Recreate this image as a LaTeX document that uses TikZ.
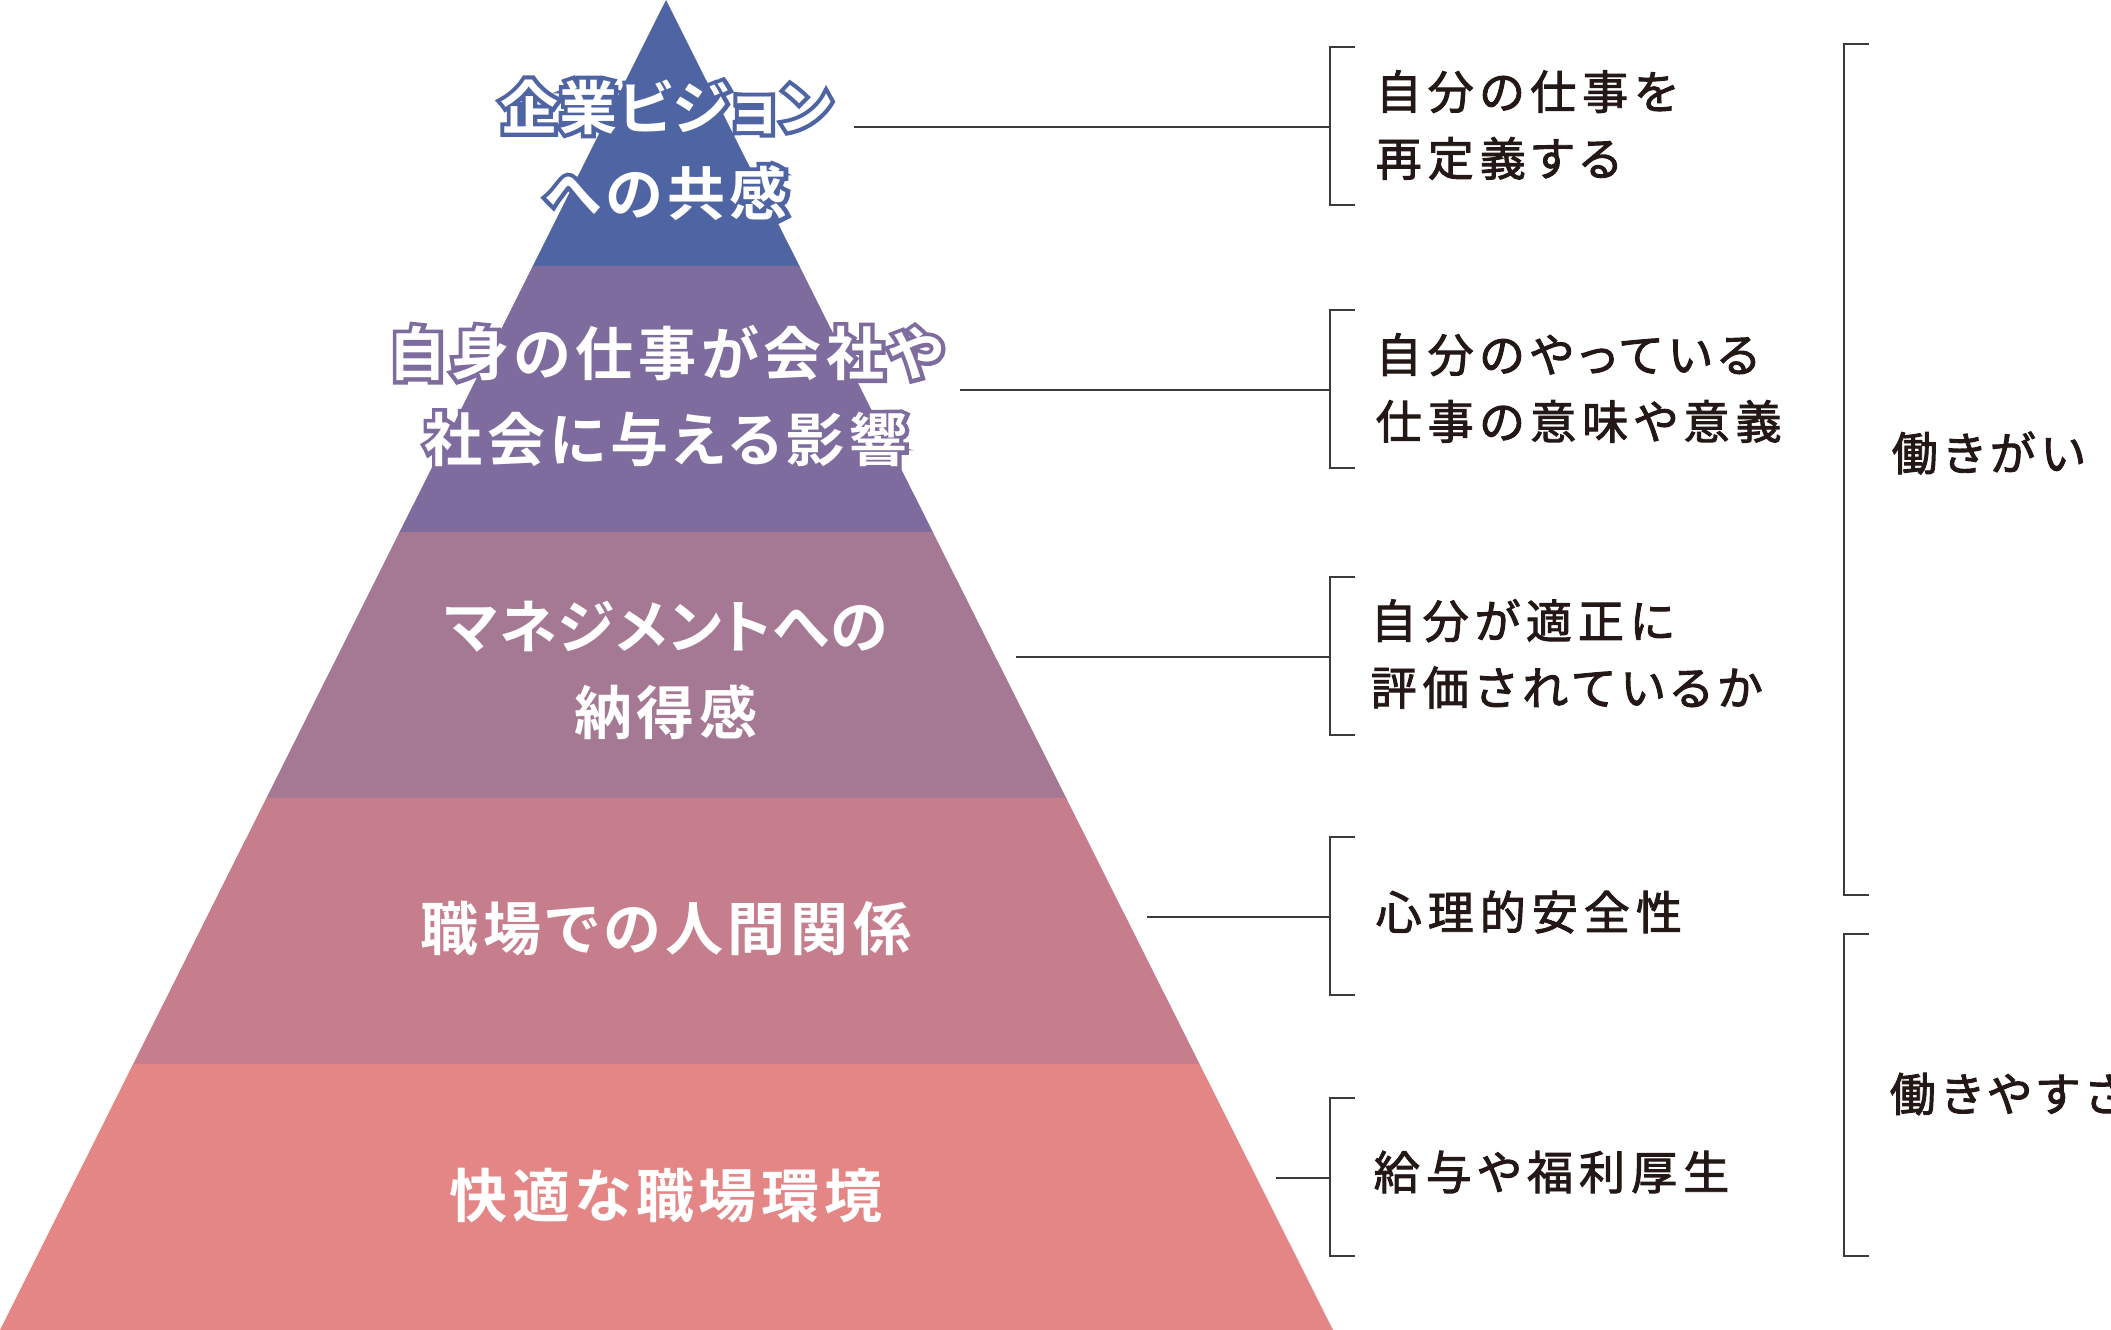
\documentclass[tikz,border=0pt]{standalone}
\usepackage{fontspec}
\usepackage{xcolor}
\usepackage{tikz}
\usetikzlibrary{positioning, calc}
\newfontfamily\jpbold{Noto Sans CJK JP Bold}[RawFeature=+palt, LetterSpace=8]
\newfontfamily\jpboldtight{Noto Sans CJK JP Bold}[RawFeature=+palt, LetterSpace=2]
\newfontfamily\jpedge{Noto Sans CJK JP Bold}[RawFeature=+palt, LetterSpace=8, FakeBold=14]
\newfontfamily\jpedgetight{Noto Sans CJK JP Bold}[RawFeature=+palt, LetterSpace=2, FakeBold=14]
\newfontfamily\jptext{Noto Sans CJK JP}[RawFeature=+palt, LetterSpace=13, FakeBold=2]
\definecolor{bandA}{HTML}{4F64A3}
\definecolor{bandB}{HTML}{7E6C9E}
\definecolor{bandC}{HTML}{A57894}
\definecolor{bandD}{HTML}{C67D8C}
\definecolor{bandE}{HTML}{E48685}
\definecolor{inkblack}{HTML}{231815}
\definecolor{rulegray}{HTML}{3E3A39}

\begin{document}
\begin{tikzpicture}[x=0.01cm, y=-0.01cm,
    lvltext/.style={text=white, align=center, inner sep=0pt,
      font=\jpbold\fontsize{16.5pt}{24.5pt}\selectfont},
    lvledge/.style={align=center, inner sep=0pt,
      font=\jpedge\fontsize{16.5pt}{24.5pt}\selectfont},
    note/.style={text=inkblack, align=left, anchor=west, inner sep=0pt,
      font=\jptext\fontsize{13.1pt}{19pt}\selectfont},
    link/.style={rulegray, line width=0.35pt}]
  \useasboundingbox (0,0) rectangle (2111,1330);

  % pyramid bands
  \foreach \c [count=\i] in {bandA,bandB,bandC,bandD,bandE} {
    \pgfmathsetmacro\fa{(\i-1)/5}
    \pgfmathsetmacro\fb{min(\i/5+0.001,1)}
    \fill[\c] ({666-666*\fa},{1330*\fa}) -- ({666+667*\fa},{1330*\fa})
      -- ({666+667*\fb},{1330*\fb}) -- ({666-666*\fb},{1330*\fb}) -- cycle;
  }

  % outlined labels in the top two bands
  \node[lvledge, text=bandA] (lvlAo) at (666,150) {{\jpedgetight 企業ビジョン}\\への共感};
  \node[lvledge, text=bandB] (lvlBo) at (666,396) {自身の仕事が会社や\\社会に与える影響};

  \node[lvltext] (lvlA) at (666,150) {{\jpboldtight 企業ビジョン}\\への共感};
  \node[lvltext] (lvlB) at (666,396) {自身の仕事が会社や\\社会に与える影響};
  \node[lvltext] (lvlC) at (666,670) {{\jpboldtight マネジメントへの}\\納得感};
  \node[lvltext] (lvlD) at (666,929) {職場での人間関係};
  \node[lvltext] (lvlE) at (666,1196) {快適な職場環境};

  % what each level means
  \node[note] (noteA) at (1375,125) {自分の仕事を\\再定義する};
  \node[note] (noteB) at (1375,388) {自分のやっている\\仕事の意味や意義};
  \node[note] (noteC) at (1370,654) {自分が適正に\\評価されているか};
  \node[note] (noteD) at (1375,912) {心理的安全性};
  \node[note] (noteE) at (1373,1172) {給与や福利厚生};

  % connectors and small brackets
  \foreach \n/\xs/\y in {A/854/127, B/960/390, C/1016/657, D/1147/917, E/1276/1178} {
    \coordinate (s\n) at (\xs,\y);
    \coordinate (b\n) at (1330,\y);
    \draw[link] (s\n) -- (b\n);
    \draw[link] (1355,\y-80) -- (1330,\y-80) -- (1330,\y+78) -- (1355,\y+78);
  }

  % big brackets
  \draw[link] (1869,44) -- (1844,44) -- (1844,895) -- (1869,895);
  \draw[link] (1869,934) -- (1844,934) -- (1844,1256) -- (1869,1256);
  \node[note] (gainA) at (1891,453) {働きがい};
  \node[note] (gainB) at (1889,1094) {働きやすさ};
\end{tikzpicture}
\end{document}
